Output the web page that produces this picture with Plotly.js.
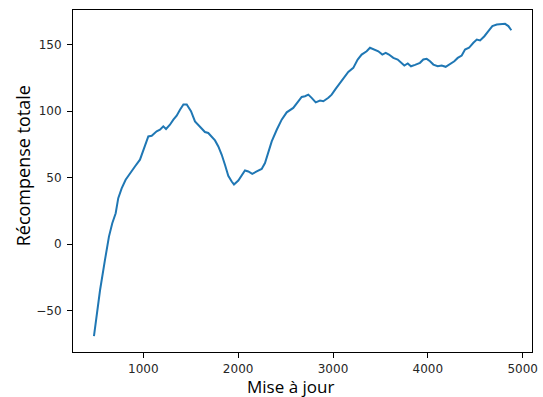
<!DOCTYPE html>
<html>
<head>
<meta charset="utf-8">
<script src="https://cdn.plot.ly/plotly-3.0.1.min.js"></script>
<style>html,body{margin:0;padding:0;background:#fff;}#chart{width:543px;height:397px;}</style>
</head>
<body>
<div id="chart"></div>
<script>
const updates = [480, 544, 596, 638, 673, 709, 736, 772, 814, 860, 912, 965, 1011, 1053, 1089, 1141, 1176, 1211, 1240, 1281, 1317, 1352, 1387, 1423, 1458, 1503, 1545, 1598, 1650, 1685, 1721, 1756, 1791, 1827, 1861, 1896, 1932, 1956, 2002, 2037, 2072, 2107, 2149, 2196, 2248, 2283, 2318, 2354, 2407, 2459, 2512, 2547, 2581, 2634, 2670, 2705, 2740, 2775, 2818, 2863, 2898, 2951, 2986, 3028, 3074, 3119, 3161, 3214, 3260, 3302, 3355, 3390, 3443, 3478, 3520, 3556, 3590, 3636, 3682, 3724, 3752, 3788, 3822, 3865, 3917, 3952, 3988, 4023, 4058, 4104, 4146, 4188, 4234, 4279, 4315, 4357, 4392, 4434, 4480, 4516, 4551, 4596, 4638, 4680, 4727, 4772, 4814, 4849, 4880];
const rewards = [-69, -34.6, -11.8, 5.7, 15.8, 23.3, 34.6, 42, 48.4, 53.5, 58.4, 63.5, 72.3, 81, 81.5, 84.8, 86, 88.6, 86.6, 89.8, 93.6, 96.6, 101, 105, 105, 100, 92.3, 88.6, 84.3, 83.6, 80.3, 78, 73.5, 67.2, 59.7, 51.4, 47.1, 44.9, 47.9, 52.2, 55.4, 54.7, 52.9, 54.7, 56.5, 61, 69.7, 77.3, 86, 93.6, 99.1, 100.6, 102.4, 107.4, 110.7, 111.2, 112.4, 110, 106.6, 107.9, 107.4, 110, 112.4, 116.7, 121.2, 126.2, 129.5, 132.5, 138.8, 142.5, 145, 147.6, 146.3, 145, 142.5, 143.8, 142.5, 140, 138.8, 136.3, 134.3, 135.8, 133.7, 134.8, 136.3, 138.8, 139.3, 137.5, 135, 133.7, 134.3, 133.3, 135.5, 137.5, 140, 141.8, 146.3, 147.6, 151.4, 153.8, 153.1, 156.3, 160.1, 163.9, 165.1, 165.1, 165.6, 163.9, 160.8];
const xTicks = [1000, 2000, 3000, 4000, 5000];
const yTicks = [-50, 0, 50, 100, 150];
const xLabel = "Mise à jour";
const yLabel = "Récompense totale";

const tickFont = {family: "DejaVu Sans", size: 12, color: "#262626"};
const axisCommon = {
  showgrid: false, zeroline: false, showline: true, mirror: true,
  linecolor: "#000", linewidth: 1, ticks: "outside", ticklen: 5,
  tickwidth: 1, tickcolor: "#000", tickfont: tickFont, automargin: false
};
const layout = {
  width: 543, height: 397,
  margin: {l: 73, r: 11, t: 10, b: 45},
  paper_bgcolor: "#fff", plot_bgcolor: "#fff",
  showlegend: false,
  xaxis: Object.assign({}, axisCommon, {range: [259, 5098], tickvals: xTicks, ticktext: xTicks.map(String), ticklabelstandoff: 1}),
  yaxis: Object.assign({}, axisCommon, {range: [-81, 176], tickvals: yTicks, ticklabelstandoff: 3}),
  annotations: [
    {text: xLabel, xref: "paper", yref: "paper", x: 0.473, y: 0, yshift: -34, showarrow: false,
     xanchor: "center", yanchor: "middle", font: {family: "Open Sans", size: 17, color: "#000"}},
    {text: yLabel, xref: "paper", yref: "paper", x: 0, y: 0.543, xshift: -50, textangle: -90, showarrow: false,
     xanchor: "center", yanchor: "middle", font: {family: "Open Sans", size: 18, color: "#000"}}
  ]
};
const trace = {x: updates, y: rewards, type: "scatter", mode: "lines",
  line: {color: "#1f77b4", width: 2}};
Plotly.newPlot("chart", [trace], layout, {displayModeBar: false, staticPlot: true});
</script>
</body>
</html>
